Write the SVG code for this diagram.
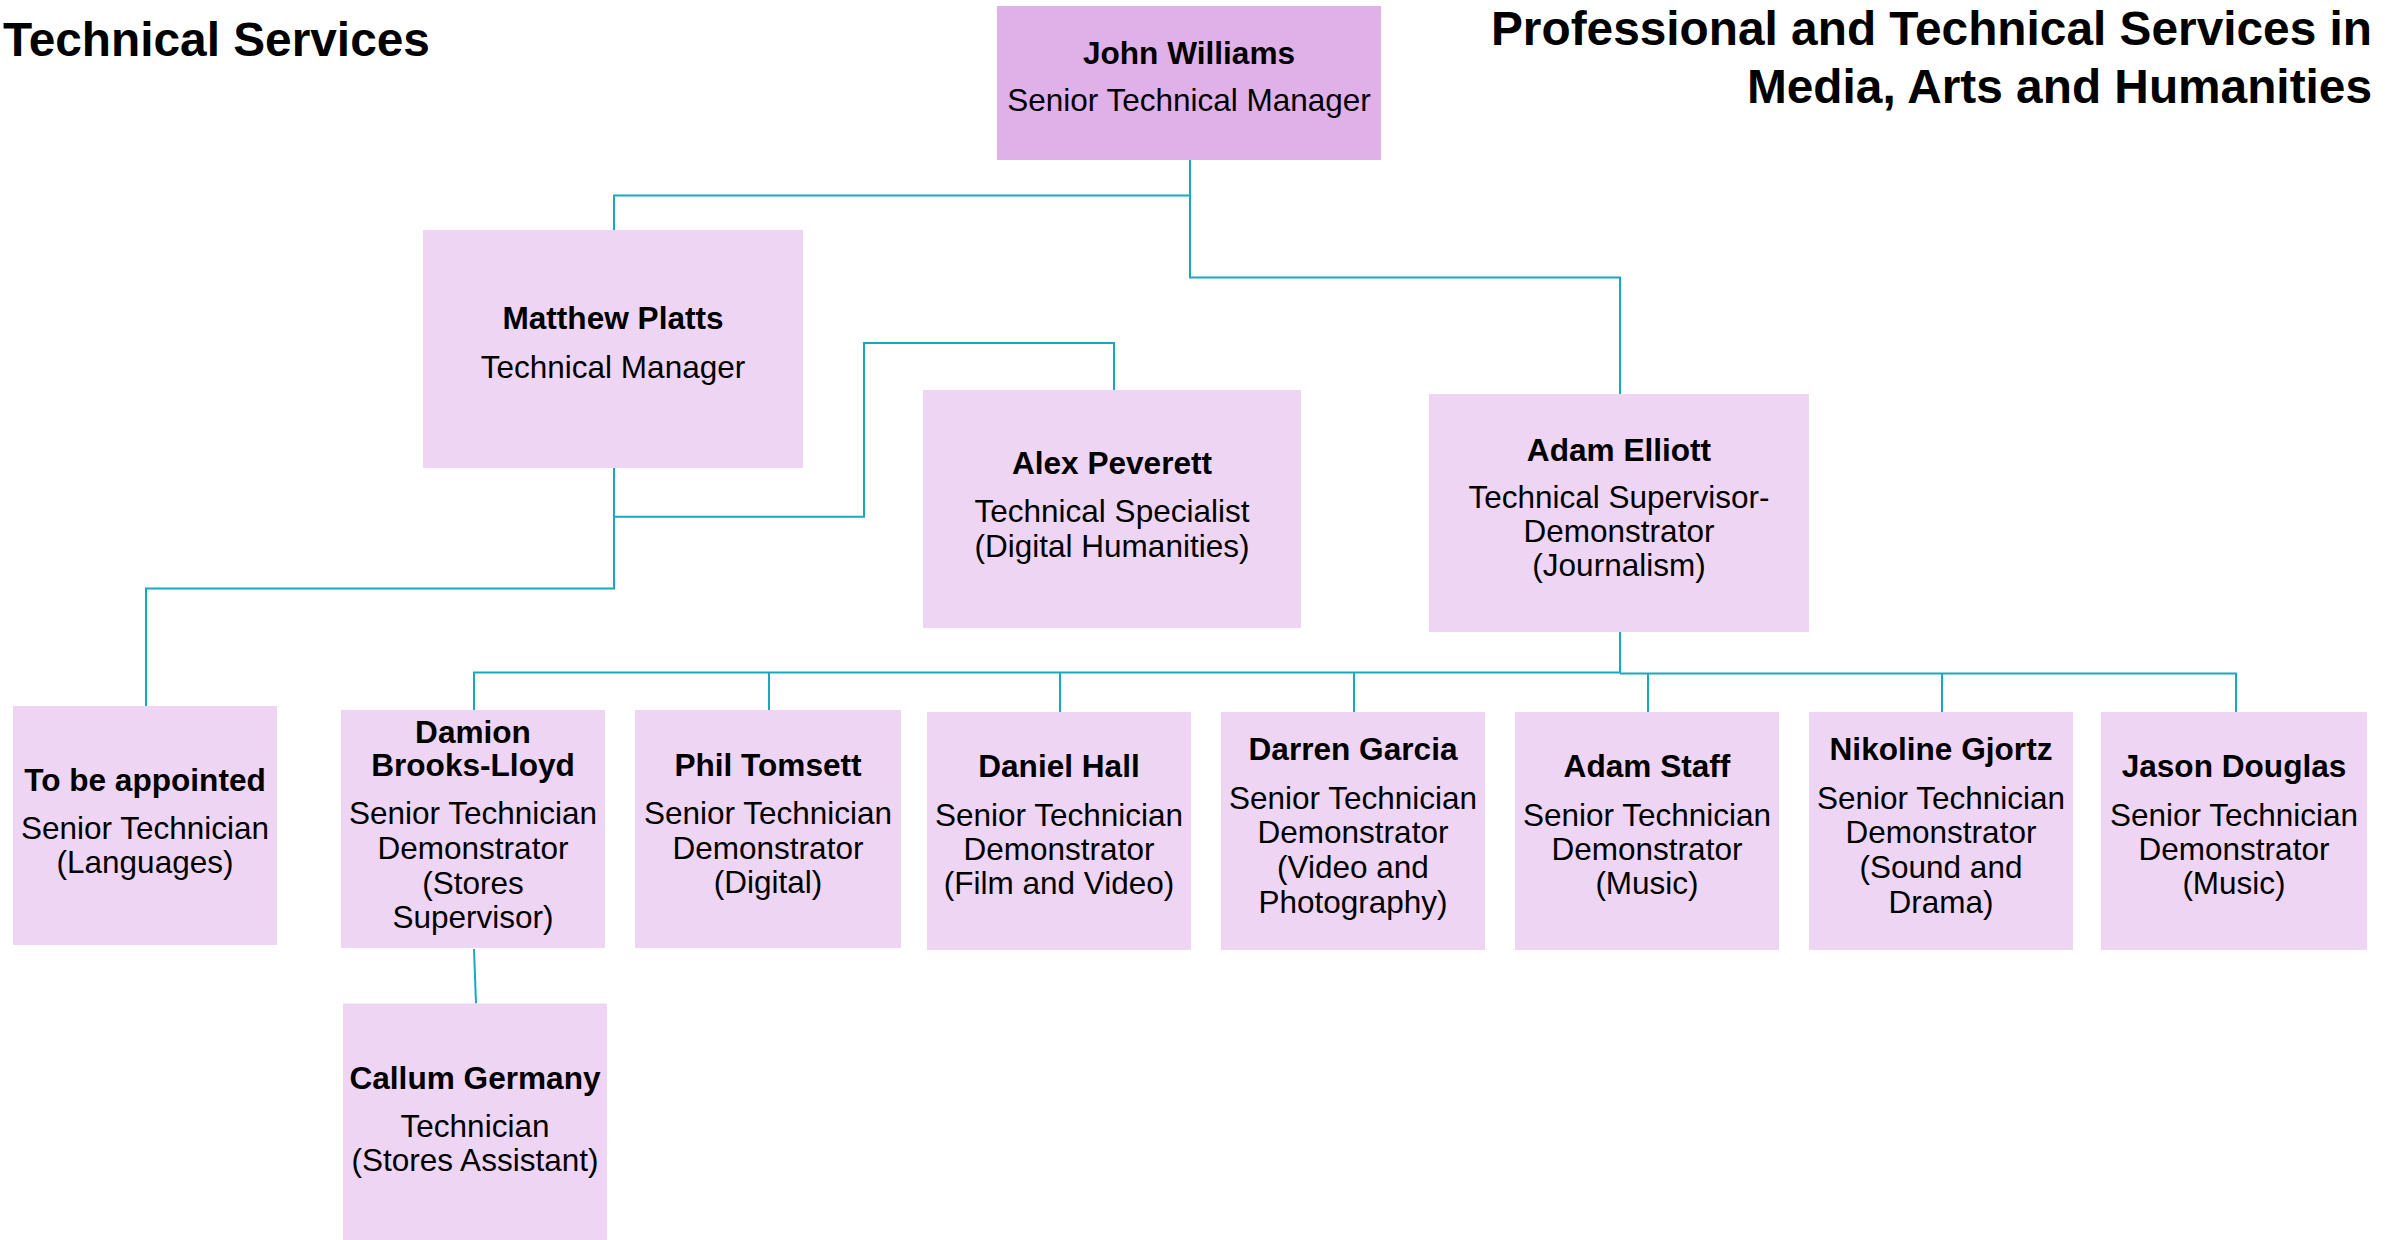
<svg xmlns="http://www.w3.org/2000/svg" width="2390" height="1240" viewBox="0 0 2390 1240">
<style>
.box{fill:#EDD5F3}
.top{fill:#E0B0E8}
.n{font-family:"Liberation Sans",Arial,sans-serif;font-weight:bold;font-size:31.6px;fill:#000;text-anchor:middle}
.r{font-family:"Liberation Sans",Arial,sans-serif;font-size:31.5px;fill:#000;text-anchor:middle}
.t{font-family:"Liberation Sans",Arial,sans-serif;font-weight:bold;font-size:47.8px;fill:#000}
.c{fill:none;stroke:#17A9BE;stroke-width:2}
</style>
<rect width="2390" height="1240" fill="#fff"/>
<text class="t" x="3" y="56">Technical Services</text>
<text class="t" x="2372" y="44.5" text-anchor="end">Professional and Technical Services in</text>
<text class="t" x="2372" y="102.5" text-anchor="end">Media, Arts and Humanities</text>
<g id="connectors">
<path class="c" d="M1190 160V195.5H614V230"/>
<path class="c" d="M1190 195.5V277.5H1620V394"/>
<path class="c" d="M614 468V516.7H864V343H1114V390"/>
<path class="c" d="M614 516.7V588.6H146V706"/>
<path class="c" d="M1620 632V672.5H474V710"/>
<path class="c" d="M769 672.5V710M1060 672.5V712M1354 672.5V712"/>
<path class="c" d="M1620 673.5H2236V712M1648 673.5V712M1942 673.5V712"/>
<path class="c" d="M474 949L476 1003.5"/>
</g>
<g id="john-williams">
<rect class="top" x="997" y="6" width="384" height="154"/>
<text class="n" x="1189" y="64">John Williams</text>
<text class="r" x="1189" y="111">Senior Technical Manager</text>
</g>
<g id="matthew-platts">
<rect class="box" x="423" y="230" width="380" height="238"/>
<text class="n" x="613" y="329">Matthew Platts</text>
<text class="r" x="613" y="377.6">Technical Manager</text>
</g>
<g id="alex-peverett">
<rect class="box" x="923" y="390" width="378" height="238"/>
<text class="n" x="1112" y="473.5">Alex Peverett</text>
<text class="r" x="1112" y="521.6">Technical Specialist</text>
<text class="r" x="1112" y="557">(Digital Humanities)</text>
</g>
<g id="adam-elliott">
<rect class="box" x="1429" y="394" width="380" height="238"/>
<text class="n" x="1619" y="461">Adam Elliott</text>
<text class="r" x="1619" y="508">Technical Supervisor-</text>
<text class="r" x="1619" y="542">Demonstrator</text>
<text class="r" x="1619" y="576">(Journalism)</text>
</g>
<g id="to-be-appointed">
<rect class="box" x="13" y="706" width="264" height="239"/>
<text class="n" x="145" y="791">To be appointed</text>
<text class="r" x="145" y="839">Senior Technician</text>
<text class="r" x="145" y="873">(Languages)</text>
</g>
<g id="damion-brooks-lloyd">
<rect class="box" x="341" y="710" width="264" height="238"/>
<text class="n" x="473" y="742.6">Damion</text>
<text class="n" x="473" y="776.2">Brooks-Lloyd</text>
<text class="r" x="473" y="824.4">Senior Technician</text>
<text class="r" x="473" y="858.6">Demonstrator</text>
<text class="r" x="473" y="893.6">(Stores</text>
<text class="r" x="473" y="928">Supervisor)</text>
</g>
<g id="phil-tomsett">
<rect class="box" x="635" y="710" width="266" height="238"/>
<text class="n" x="768" y="776">Phil Tomsett</text>
<text class="r" x="768" y="824.4">Senior Technician</text>
<text class="r" x="768" y="858.6">Demonstrator</text>
<text class="r" x="768" y="893">(Digital)</text>
</g>
<g id="daniel-hall">
<rect class="box" x="927" y="712" width="264" height="238"/>
<text class="n" x="1059" y="777.4">Daniel Hall</text>
<text class="r" x="1059" y="825.6">Senior Technician</text>
<text class="r" x="1059" y="859.5">Demonstrator</text>
<text class="r" x="1059" y="893.6">(Film and Video)</text>
</g>
<g id="darren-garcia">
<rect class="box" x="1221" y="712" width="264" height="238"/>
<text class="n" x="1353" y="760">Darren Garcia</text>
<text class="r" x="1353" y="808.8">Senior Technician</text>
<text class="r" x="1353" y="843">Demonstrator</text>
<text class="r" x="1353" y="877.5">(Video and</text>
<text class="r" x="1353" y="912.5">Photography)</text>
</g>
<g id="adam-staff">
<rect class="box" x="1515" y="712" width="264" height="238"/>
<text class="n" x="1647" y="777.4">Adam Staff</text>
<text class="r" x="1647" y="825.6">Senior Technician</text>
<text class="r" x="1647" y="859.5">Demonstrator</text>
<text class="r" x="1647" y="893.6">(Music)</text>
</g>
<g id="nikoline-gjortz">
<rect class="box" x="1809" y="712" width="264" height="238"/>
<text class="n" x="1941" y="760">Nikoline Gjortz</text>
<text class="r" x="1941" y="808.8">Senior Technician</text>
<text class="r" x="1941" y="843">Demonstrator</text>
<text class="r" x="1941" y="877.5">(Sound and</text>
<text class="r" x="1941" y="912.5">Drama)</text>
</g>
<g id="jason-douglas">
<rect class="box" x="2101" y="712" width="266" height="238"/>
<text class="n" x="2234" y="777.4">Jason Douglas</text>
<text class="r" x="2234" y="825.6">Senior Technician</text>
<text class="r" x="2234" y="859.5">Demonstrator</text>
<text class="r" x="2234" y="893.6">(Music)</text>
</g>
<g id="callum-germany">
<rect class="box" x="343" y="1003.5" width="264" height="240"/>
<text class="n" x="475" y="1089">Callum Germany</text>
<text class="r" x="475" y="1137">Technician</text>
<text class="r" x="475" y="1171">(Stores Assistant)</text>
</g>
</svg>
